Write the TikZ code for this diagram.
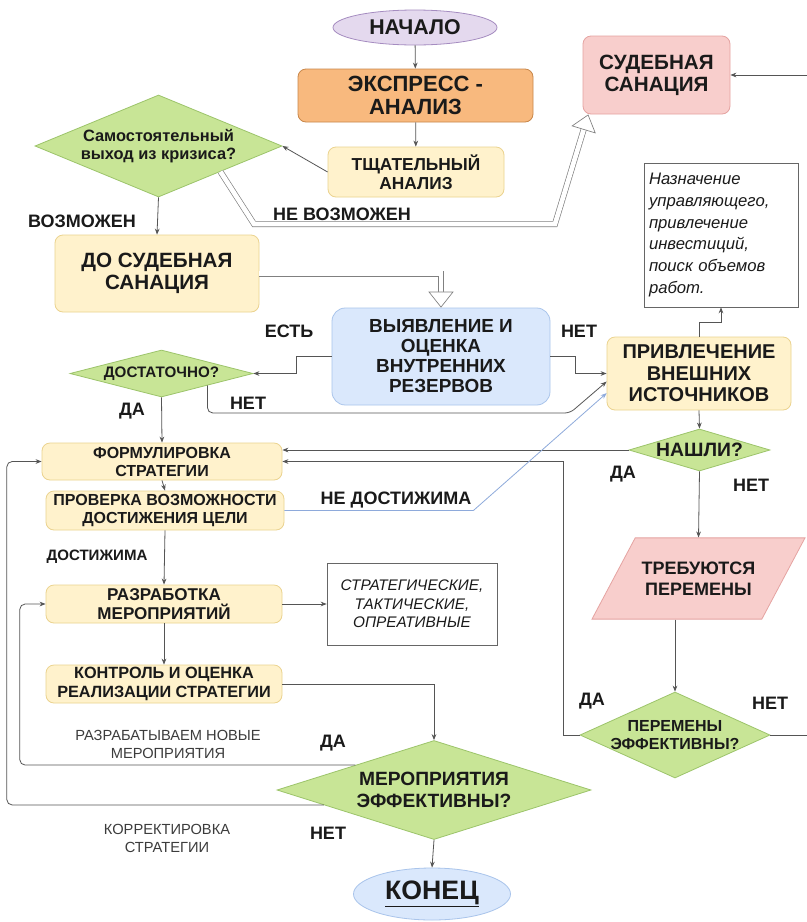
\documentclass[tikz,border=0pt]{standalone}
\usepackage{fontspec}
\setmainfont{Liberation Sans}
\usetikzlibrary{shapes.geometric,arrows.meta,calc,positioning,shadows}
\newcommand\fsz[2]{\fontsize{#1pt}{#2pt}\selectfont}
\definecolor{txt}{HTML}{1A1A1A}
\definecolor{wire}{HTML}{555555}
\definecolor{wireblue}{HTML}{8EAADB}
\definecolor{lavfill}{HTML}{E4D9EE}
\definecolor{lavline}{HTML}{A58CC0}
\definecolor{orfill}{HTML}{F8B97E}
\definecolor{orline}{HTML}{C8874A}
\definecolor{yelfill}{HTML}{FFF2CC}
\definecolor{yelline}{HTML}{EBD38F}
\definecolor{pinkfill}{HTML}{F8CECC}
\definecolor{pinkline}{HTML}{E5A3A1}
\definecolor{bluefill}{HTML}{DAE8FC}
\definecolor{blueline}{HTML}{A9C4EB}
\definecolor{grnfill}{HTML}{C8E596}
\definecolor{grnline}{HTML}{9CC46A}
\definecolor{boxline}{HTML}{666666}
\tikzset{
  every node/.style={text=txt, align=center},
  block/.style={rectangle, rounded corners=6pt, draw=yelline, fill=yelfill, line width=0.6pt, inner sep=1pt},
  term/.style={ellipse, line width=0.6pt, inner sep=1pt},
  decision/.style={diamond, draw=grnline, fill=grnfill, line width=0.6pt, inner sep=-6pt},
  para/.style={trapezium, trapezium left angle=62, trapezium right angle=118, trapezium stretches body=true, draw=pinkline, fill=pinkfill, line width=0.6pt, inner xsep=1pt, inner ysep=18pt},
  note/.style={rectangle, draw=boxline, fill=white, line width=0.5pt, inner sep=3.75pt, drop shadow={shadow xshift=0.9pt, shadow yshift=-0.9pt, fill=gray!70, opacity=0.6}},
  lbl/.style={font=\bfseries\fsz{13.5}{15}},
  lblthin/.style={font=\fsz{11}{13.5}, text=txt!85},
  flow/.style={draw=wire, line width=0.6pt, -{Stealth[length=4.5pt,width=3.5pt]}},
  flowblue/.style={flow, draw=wireblue},
  dblline/.style={draw=wire!75, line width=0.5pt, double=white, double distance=3.5pt},
  hollowhead/.style={draw=wire!75, line width=0.5pt, -{Triangle[length=12pt,width=19pt,fill=white]}}
}

\begin{document}
\begin{tikzpicture}[x=0.75pt, y=-0.75pt]
\path[use as bounding box, fill=white] (0,0) rectangle (807,922);

% upper part
\node[term, fill=lavfill, draw=lavline, minimum width=123pt, minimum height=26.25pt, font=\bfseries\fsz{16}{18}] (nachalo) at (415,27.5) {НАЧАЛО};
\node[block, fill=orfill, draw=orline, minimum width=176.25pt, minimum height=39.75pt, font=\bfseries\fsz{16.5}{17.5}] (express) at (415.5,95.5) {ЭКСПРЕСС -\\АНАЛИЗ};
\node[block, minimum width=132pt, minimum height=37.5pt, font=\bfseries\fsz{13}{14.5}] (tschat) at (416,172) {ТЩАТЕЛЬНЫЙ\\АНАЛИЗ};
\node[decision, aspect=2.4, minimum width=185.25pt, minimum height=76.5pt, font=\bfseries\fsz{12.3}{13.5}] (samost) at (158.5,146) {Самостоятельный\\выход из кризиса?};
\node[block, minimum width=153pt, minimum height=57.75pt, font=\bfseries\fsz{15.5}{16}] (dosud) at (157,273.5) {ДО СУДЕБНАЯ\\САНАЦИЯ};
\node[block, fill=pinkfill, draw=pinkline, minimum width=110.25pt, minimum height=58.5pt, font=\bfseries\fsz{15.5}{16.5}] (sudeb) at (656.5,75) {СУДЕБНАЯ\\САНАЦИЯ};
\node[note, minimum width=115.5pt, minimum height=108pt, text width=108pt, align=left, font=\itshape\fsz{12.5}{16.3}] (nazn) at (721,235) {Назначение\\управляющего,\\привлечение\\инвестиций,\\поиск объемов\\работ.};

% middle part
\node[block, fill=bluefill, draw=blueline, rounded corners=10pt, minimum width=163.5pt, minimum height=72.75pt, font=\bfseries\fsz{14.2}{15}] (vyyav) at (441,356.5) {ВЫЯВЛЕНИЕ И\\ОЦЕНКА\\ВНУТРЕННИХ\\РЕЗЕРВОВ};
\node[decision, aspect=3.9, minimum width=137.25pt, minimum height=35.25pt, font=\bfseries\fsz{11.4}{13}] (dostat) at (161.5,373.5) {ДОСТАТОЧНО?};
\node[block, minimum width=138pt, minimum height=54.75pt, font=\bfseries\fsz{15}{16.25}] (privl) at (699,373.5) {ПРИВЛЕЧЕНИЕ\\ВНЕШНИХ\\ИСТОЧНИКОВ};
\node[block, minimum width=180pt, minimum height=27.75pt, font=\bfseries\fsz{12}{13.5}] (form) at (162,461.5) {ФОРМУЛИРОВКА\\СТРАТЕГИИ};
\node[block, minimum width=178.5pt, minimum height=29.25pt, font=\bfseries\fsz{12}{14}] (prov) at (165,510.5) {ПРОВЕРКА ВОЗМОЖНОСТИ\\ДОСТИЖЕНИЯ ЦЕЛИ};
\node[decision, aspect=3.36, minimum width=105.75pt, minimum height=31.5pt, font=\bfseries\fsz{14.5}{16}] (nashli) at (699.5,450) {НАШЛИ?};

% lower part
\node[block, minimum width=177pt, minimum height=28.5pt, font=\bfseries\fsz{12.8}{14}] (razrab) at (164,604) {РАЗРАБОТКА\\МЕРОПРИЯТИЙ};
\node[note, minimum width=127.5pt, minimum height=61.5pt, font=\itshape\fsz{11.5}{13.75}] (strat) at (412,604) {СТРАТЕГИЧЕСКИЕ,\\ТАКТИЧЕСКИЕ,\\ОПРЕАТИВНЫЕ};
\node[block, minimum width=177pt, minimum height=28.5pt, font=\bfseries\fsz{12.2}{14}] (kontr) at (164,684) {КОНТРОЛЬ И ОЦЕНКА\\РЕАЛИЗАЦИИ СТРАТЕГИИ};
\node[para, minimum width=159.75pt, font=\bfseries\fsz{13.5}{15.5}] (treb) at (698.5,578.5) {ТРЕБУЮТСЯ\\ПЕРЕМЕНЫ};
\node[decision, aspect=2.2, minimum width=142.5pt, minimum height=64.5pt, font=\bfseries\fsz{12}{13.5}] (peref) at (675,735) {ПЕРЕМЕНЫ\\ЭФФЕКТИВНЫ?};
\node[decision, aspect=3.17, minimum width=235.5pt, minimum height=74.25pt, font=\bfseries\fsz{14.4}{16}] (mer) at (434,790) {МЕРОПРИЯТИЯ\\ЭФФЕКТИВНЫ?};
\node[term, fill=bluefill, draw=blueline, minimum width=117.75pt, minimum height=39pt, font=\bfseries\fsz{20}{22}] (konec) at (432,894) {\underline{КОНЕЦ}};

% labels
\node[lbl] (lvozm) at (82,221) {ВОЗМОЖЕН};
\node[lbl] (lnevozm) at (342,214) {НЕ ВОЗМОЖЕН};
\node[lbl] (lest) at (289,331) {ЕСТЬ};
\node[lbl] (lnetv) at (579,331) {НЕТ};
\node[lbl] (lnetd) at (248,403) {НЕТ};
\node[lbl] (ldad) at (132,411) {ДА};
\node[lbl] (lnedost) at (396,500) {НЕ ДОСТИЖИМА};
\node[lbl] (ldan) at (623,474) {ДА};
\node[lbl] (lnetn) at (751,485) {НЕТ};
\node[lbl, font=\bfseries\fsz{11.3}{13}] (ldost) at (97,557) {ДОСТИЖИМА};
\node[lbl] (ldap) at (592,701) {ДА};
\node[lbl] (lnetp) at (770,703) {НЕТ};
\node[lblthin] (lnovye) at (168,744) {РАЗРАБАТЫВАЕМ НОВЫЕ\\МЕРОПРИЯТИЯ};
\node[lbl] (ldam) at (333,743) {ДА};
\node[lblthin] (lkorr) at (167,838) {КОРРЕКТИРОВКА\\СТРАТЕГИИ};
\node[lbl] (lnetm) at (328,833) {НЕТ};

% connectors
\draw[flow] (nachalo) -- (express);
\draw[flow] (express) -- (tschat);
\draw[flow] (tschat.west) -- (samost.east);
\draw[flow] (samost.south) -- (dosud.north);

\coordinate (nvbend) at (555,224);
\draw[dblline, shorten >=11pt] ($(samost.east)!0.5!(samost.south)$) -- (254,224) -- (nvbend) -- (sudeb.210);
\draw[hollowhead] ($(sudeb.210)!12pt!(nvbend)$) -- (sudeb.210);
\draw[dblline, shorten >=11pt] (dosud.east) -| (vyyav.north);
\draw[hollowhead] ($(vyyav.north)+(0,-16)$) -- (vyyav.north);

\draw[flow] (vyyav.west) -- ++(-35,0) |- (dostat.east);
\draw[flow] (vyyav.east) -- ++(25,0) |- (privl.west);
\draw[flow, rounded corners=4pt] ($(dostat.east)!0.5!(dostat.south)$) |- (570,413) -- (privl.185);
\draw[flow] (dostat.south) -- (form.north);
\draw[flow] (privl.north) -- ++(0,-14) -| (nazn.south);
\draw[flow] (privl.south) -- (nashli.north);
\draw[flow] (nashli.west) -- (nashli.west -| form.east);
\draw[flow] (nashli.south) -- (treb.north);
\draw[flow] (treb.south -| peref.north) -- (peref.north);
\draw[flow] (peref.west) -- ++(-16,0) |- (form.east);
\draw[flow] (peref.east) -- ++(42,0) |- (sudeb.east);

\draw[flow] (form.south) -- (prov.north);
\draw[flowblue] (prov.east) -- ++(189,0) -- (privl.192);
\draw[flow] (prov.south) -- (razrab.north);
\draw[flow] (razrab.east) -- (strat.west);
\draw[flow] (razrab.south) -- (kontr.north);
\draw[flow] (kontr.east) -| (mer.north);
\draw[flow, rounded corners=4pt] ($(mer.west)!0.5!(mer.north)$) -- ++(-335.5,0) |- (razrab.west);
\draw[flow, rounded corners=4pt] ($(mer.west)!0.3!(mer.south)$) -- ++(-317,0) |- (form.west);
\draw[flow] (mer.south) -- (konec.north);
\end{tikzpicture}
\end{document}
